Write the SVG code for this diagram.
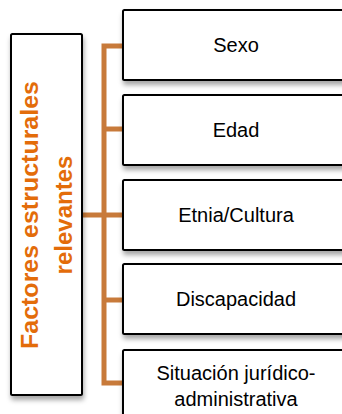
<svg xmlns="http://www.w3.org/2000/svg" width="342" height="414" viewBox="0 0 342 414">
<defs>
<filter id="sh" x="-10%" y="-10%" width="130%" height="130%">
<feDropShadow dx="1" dy="4" stdDeviation="2.5" flood-color="#000" flood-opacity="0.35"/>
</filter>
<style>
.box{fill:#fff;stroke:#000;stroke-width:2;filter:url(#sh)}
.lbl{font-family:"Liberation Sans",Arial,sans-serif;font-size:20px;fill:#000;text-anchor:middle}
.ttl{font-family:"Liberation Sans",Arial,sans-serif;font-size:24px;font-weight:bold;fill:#E36C0A;text-anchor:middle}
.con{fill:none;stroke:#C87A3A;stroke-width:5;stroke-linejoin:miter}
</style>
</defs>
<g id="connectors">
<path class="con" d="M123,46 H104 V383 H123"/>
<path class="con" d="M104,129 H123"/>
<path class="con" d="M82,215 H123"/>
<path class="con" d="M104,300 H123"/>
</g>
<g id="title">
<rect class="box" x="11" y="34" width="71" height="361" rx="1.5"/>
<text class="ttl" transform="translate(38,215) rotate(-90)" x="0" y="0" textLength="268" lengthAdjust="spacingAndGlyphs">Factores estructurales</text>
<text class="ttl" transform="translate(72,215) rotate(-90)" x="0" y="0">relevantes</text>
</g>
<g id="sexo">
<rect class="box" x="123" y="10" width="228" height="70" rx="1.5"/>
<text class="lbl" x="236" y="52">Sexo</text>
</g>
<g id="edad">
<rect class="box" x="123" y="95" width="228" height="70" rx="1.5"/>
<text class="lbl" x="236" y="137">Edad</text>
</g>
<g id="etnia">
<rect class="box" x="123" y="180" width="228" height="70" rx="1.5"/>
<text class="lbl" x="236" y="222">Etnia/Cultura</text>
</g>
<g id="discapacidad">
<rect class="box" x="123" y="264" width="228" height="70" rx="1.5"/>
<text class="lbl" x="236" y="306">Discapacidad</text>
</g>
<g id="situacion">
<rect class="box" x="123" y="350" width="228" height="70" rx="1.5"/>
<text class="lbl" x="236" y="380">Situación jurídico-</text>
<text class="lbl" x="236" y="406">administrativa</text>
</g>
</svg>
